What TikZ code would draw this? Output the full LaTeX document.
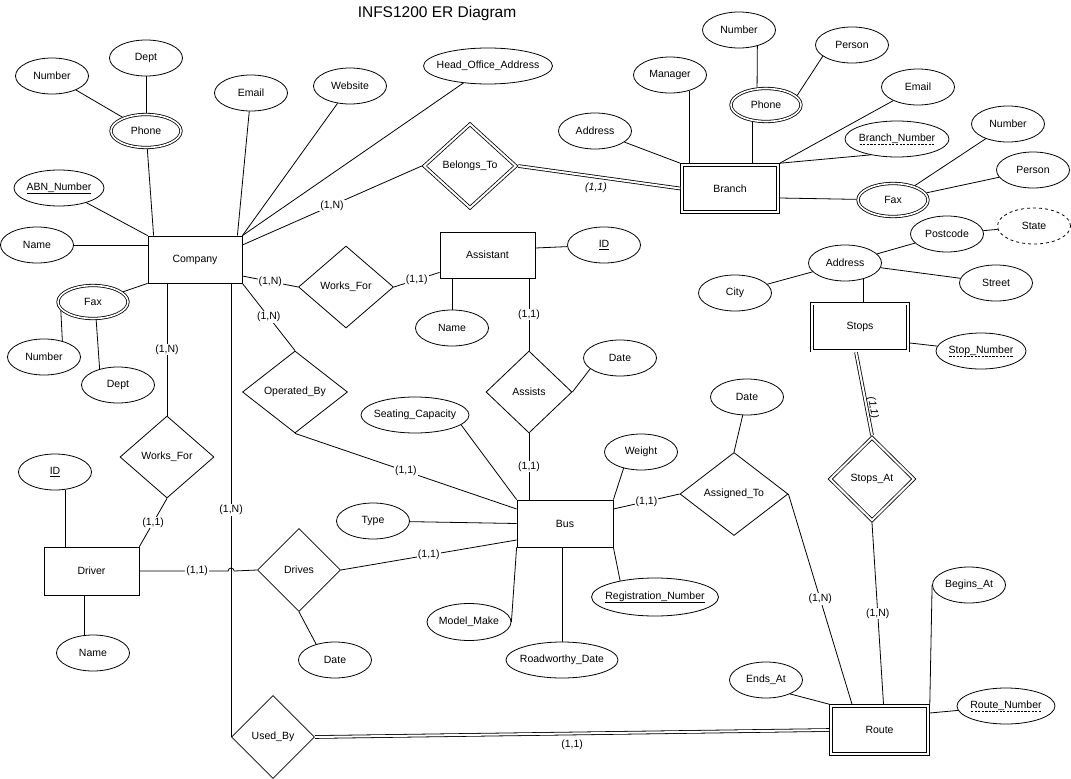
\documentclass[tikz,border=0pt]{standalone}
\usepackage{fontspec}
\setmainfont{Liberation Sans}
\usetikzlibrary{positioning,shapes.geometric}

\newbox\ulbox
\newcommand{\solidul}[1]{\setbox\ulbox=\hbox{#1}\leavevmode\rlap{\lower2.6pt\hbox{\vrule height 0.6pt width \wd\ulbox}}\box\ulbox}
\newcommand{\dashul}[1]{\setbox\ulbox=\hbox{#1}\leavevmode\rlap{\lower2.6pt\hbox to \wd\ulbox{\xleaders\hbox to 3.5pt{\hss\vrule height 0.6pt width 2.2pt\hss}\hfill}}\box\ulbox}

\tikzset{
  attr/.style={ellipse, draw, minimum width=73pt, minimum height=36pt, inner xsep=-8pt, inner ysep=0pt},
  multi/.style={attr, double, double distance=1.6pt, minimum width=70pt, minimum height=33pt, outer sep=1.6pt},
  derived/.style={attr, dashed},
  entity/.style={draw, minimum width=94pt, minimum height=47pt, inner sep=0pt},
  weak/.style={entity, double, double distance=2pt, minimum width=96pt, minimum height=47pt, outer sep=1.8pt},
  rel/.style={diamond, draw, aspect=1, inner sep=0pt, minimum width=84pt, minimum height=82pt},
  weakrel/.style={rel, double, double distance=2pt, outer sep=1.8pt},
  card/.style={fill=white, inner sep=1pt},
  dbl/.style={double, double distance=2pt}
}

\begin{document}
\begin{tikzpicture}[x=1pt, y=-1pt, line width=0.8pt, font=\fontsize{10.5}{12}\selectfont]
\useasboundingbox (0,0) rectangle (1071,779);

\node[anchor=base, font=\fontsize{15.5}{18}\selectfont] (title) at (437,17.5) {INFS1200 ER Diagram};

\node[entity] (company) at (195,259.5) {Company};
\node[multi] (cphone) at (146,131) {Phone};
\node[attr] (cnum) at (52,76) {Number};
\node[attr] (cdept) at (146,58) {Dept};
\node[attr] (cemail) at (251,93) {Email};
\node[attr] (cweb) at (350,86) {Website};
\node[attr, minimum width=129pt] (chead) at (488,66) {Head\_Office\_Address};
\node[attr, minimum width=90pt] (cabn) at (59,188) {\solidul{ABN\_Number}};
\node[attr] (cname) at (37,245) {Name};
\node[multi] (cfax) at (93,302) {Fax};
\node[attr] (cfaxnum) at (44,357) {Number};
\node[attr] (cfaxdept) at (118,385) {Dept};

\node[weakrel, minimum width=93pt, minimum height=85pt] (belongs) at (470,166) {Belongs\_To};
\node[weak] (branch) at (730,188.5) {Branch};
\node[attr] (baddr) at (595,131) {Address};
\node[attr] (bmanager) at (670,75) {Manager};
\node[multi] (bphone) at (766,105) {Phone};
\node[attr] (bpnum) at (739,30) {Number};
\node[attr] (bperson) at (852,45) {Person};
\node[attr] (bemail) at (918,87) {Email};
\node[attr, minimum width=104pt] (bnumber) at (897,139) {\dashul{Branch\_Number}};
\node[multi] (bfax) at (893,200) {Fax};
\node[attr] (bfnum) at (1008,124) {Number};
\node[attr] (bfperson) at (1033,170) {Person};

\node[weak] (stops) at (860,327) {Stops};
\node[attr] (saddr) at (845,263) {Address};
\node[attr] (spost) at (947,234) {Postcode};
\node[derived] (sstate) at (1034,226) {State};
\node[attr] (scity) at (735,293) {City};
\node[attr] (sstreet) at (996,283) {Street};
\node[attr, minimum width=90pt] (sstopnum) at (981,351) {\dashul{Stop\_Number}};
\node[weakrel, minimum width=85pt, minimum height=84pt] (stopsat) at (872,479) {Stops\_At};

\node[entity, minimum width=95pt, minimum height=46pt] (assistant) at (487.5,255) {Assistant};
\node[attr] (aid) at (604,245) {\solidul{ID}};
\node[attr] (aname) at (452,328) {Name};
\node[rel, minimum width=95pt] (worksfor) at (346,287) {Works\_For};
\node[rel, minimum width=86pt] (assists) at (529,392) {Assists};
\node[attr] (adate) at (620,358) {Date};

\node[rel, minimum width=105pt] (operated) at (295,392) {Operated\_By};
\node[entity, minimum width=96pt] (bus) at (565,523.5) {Bus};
\node[attr, minimum width=108pt] (bseat) at (415,415) {Seating\_Capacity};
\node[attr] (btype) at (373,521) {Type};
\node[attr] (bweight) at (641,452) {Weight};
\node[attr, minimum width=84pt, minimum height=37pt] (bmodel) at (469,622) {Model\_Make};
\node[attr, minimum width=112pt] (broad) at (562,660) {Roadworthy\_Date};
\node[attr, minimum width=127pt, minimum height=38pt] (breg) at (655,597) {\solidul{Registration\_Number}};
\node[rel, minimum width=108pt, minimum height=83pt] (assigned) at (734,494) {Assigned\_To};
\node[attr] (asdate) at (747,397) {Date};

\node[rel, minimum width=94pt] (driverwf) at (167,457) {Works\_For};
\node[entity, minimum width=95pt, minimum height=48pt] (driver) at (91.5,571) {Driver};
\node[attr] (did) at (55,472) {\solidul{ID}};
\node[attr] (dname) at (93,653) {Name};
\node[rel, minimum width=83pt, minimum height=83pt] (drives) at (299,570) {Drives};
\node[attr] (ddate) at (335,660) {Date};

\node[weak, minimum width=97pt, minimum height=48pt] (route) at (879.5,730) {Route};
\node[attr] (rbegins) at (969,585) {Begins\_At};
\node[attr] (rends) at (766,680) {Ends\_At};
\node[attr, minimum width=98pt] (rnumber) at (1006,706) {\dashul{Route\_Number}};
\node[rel, minimum width=83pt, minimum height=83pt] (usedby) at (273,737) {Used\_By};

\draw (cdept) -- (cphone);
\draw (cnum) -- (cphone);
\draw ([xshift=6pt]company.north west) -- (cphone);
\draw ([xshift=-5pt]company.north east) -- (cemail);
\draw (company.north east) -- (cweb);
\draw (company.north east) -- (chead);
\draw (company.north west) -- (cabn);
\draw (cname) -- (cname -| company.west);
\draw (company.south west) -- (cfax);
\draw (cfax.195) -- (cfaxnum.41);
\draw (cfax.-80) -- (cfaxdept.139);

\draw ([yshift=14.5pt]company.east) -- node[card]{(1,N)} (belongs.west);
\draw[dbl] (belongs.east) -- node[pos=0.48, below=6pt, inner sep=0pt, font=\fontsize{10.5}{12}\selectfont\itshape]{(1,1)} (branch.west);
\draw (baddr) -- (branch.north west);
\draw (bmanager.-39) -- (bmanager.-39 |- branch.north);
\draw (bphone.-128) -- (bphone.-128 |- branch.north);
\draw (bpnum.-41) -- (bphone.117);
\draw (bperson.-159) -- (bphone.17);
\draw (branch.north east) -- (bemail);
\draw (branch.north east) -- (bnumber.-149);
\draw ([yshift=-9.5pt]branch.east) -- (bfax);
\draw (bfax) -- (bfnum);
\draw (bfax) -- (bfperson);

\draw (spost) -- (sstate);
\draw (saddr) -- (spost);
\draw (saddr) -- (scity);
\draw (saddr) -- (sstreet);
\draw (saddr.-41) -- (saddr.-41 |- stops.north);
\draw ([yshift=-16pt]stops.east) -- (sstopnum);
\draw[dbl] ([xshift=-4pt]stops.south) -- node[pos=0.67, xshift=6pt, rotate=-80, inner sep=0pt, font=\fontsize{10.5}{12}\selectfont\itshape]{(1,1)} (stopsat.north);
\draw (stopsat.south) -- node[card]{(1,N)} ([xshift=4pt]route.north);

\draw ([yshift=-16.5pt]company.east) -- node[card]{(1,N)} (worksfor.west);
\draw (worksfor.east) -- node[card]{(1,1)} ([yshift=6pt]assistant.south west);
\draw ([yshift=7pt]assistant.east) -- (aid);
\draw (aname) -- (aname |- assistant.south);
\draw (assists.north |- assistant.south) -- node[card]{(1,1)} (assists.north);
\draw (assists.east) -- (adate.-160);
\draw (assists.south) -- node[card]{(1,1)} (assists.south |- bus.north);

\draw (company.south east) -- node[card]{(1,N)} (operated.north);
\draw (operated.south) -- node[card]{(1,1)} ([yshift=14.5pt]bus.west);
\draw (bseat.-12) -- (bus.north west);
\draw (btype) -- (bus.west);
\draw (drives.east) -- node[card]{(1,1)} ([yshift=-16.5pt]bus.west);
\draw (bus.south west) -- (bmodel.east);
\draw (broad) -- (broad |- bus.south);
\draw (bus.south east) -- (breg.155);
\draw (bus.north east) -- (bweight.-137);
\draw ([yshift=14.5pt]bus.east) -- node[card]{(1,1)} (assigned.west);
\draw (assigned.north) -- (asdate);
\draw (assigned.east) -- node[card]{(1,N)} ([xshift=-27.5pt]route.north);

\draw (company.south -| driverwf.north) -- node[card]{(1,N)} (driverwf.north);
\draw (driverwf.south) -- node[card]{(1,1)} (driver.north east);
\draw (did.-60) -- (did.-60 |- driver.north);
\draw (dname.115) -- (dname.115 |- driver.south);
\draw (company.south -| usedby.west) -- node[card]{(1,N)} (usedby.west);
\draw (driver.east) -- node[card, pos=0.65]{(1,1)} ([xshift=-3pt]driver.east -| usedby.west) arc[start angle=180, end angle=0, radius=3pt] -- (drives.west);
\draw (drives.south) -- (ddate.140);

\draw (rbegins.west) -- (route.north east);
\draw (rends.-30) -- (route.north west);
\draw ([yshift=17pt]route.east) -- (rnumber);
\draw[dbl] (usedby.east) -- node[below=6pt, inner sep=0pt]{(1,1)} (route.west);
\end{tikzpicture}
\end{document}
